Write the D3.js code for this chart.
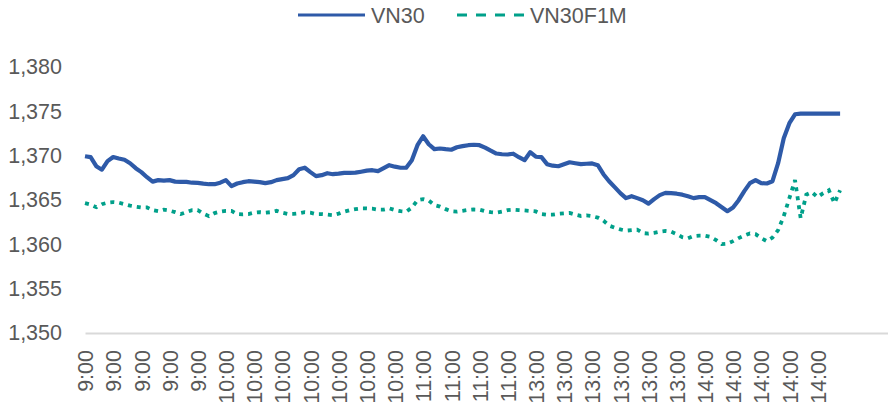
<!DOCTYPE html>
<html>
<head>
<meta charset="utf-8">
<script src="https://cdn.jsdelivr.net/npm/d3@7"></script>
<style>
  body { margin: 0; background: #fff; }
  text { font-family: "Liberation Sans", Arial, sans-serif; }
</style>
</head>
<body>
<div id="chart"></div>
<script>
// x tick labels, one every 5 points
var timeLabels = ["9:00", "9:00", "9:00", "9:00", "9:00",
  "10:00", "10:00", "10:00", "10:00", "10:00", "10:00", "10:00",
  "11:00", "11:00", "11:00", "11:00",
  "13:00", "13:00", "13:00", "13:00", "13:00", "13:00",
  "14:00", "14:00", "14:00", "14:00", "14:00"];
var labelStep = 5;
var yTicks = [1350, 1355, 1360, 1365, 1370, 1375, 1380];

var vn30 = [
  1369.94, 1369.83, 1368.81, 1368.42, 1369.38, 1369.85, 1369.68, 1369.54, 1369.15, 1368.59,
  1368.14, 1367.57, 1367.07, 1367.24, 1367.18, 1367.24, 1367.07, 1367.04, 1367.04, 1366.95,
  1366.93, 1366.84, 1366.78, 1366.78, 1366.95, 1367.24, 1366.56, 1366.86, 1367.01, 1367.12,
  1367.07, 1367.01, 1366.90, 1367.01, 1367.24, 1367.35, 1367.46, 1367.80, 1368.47, 1368.64,
  1368.14, 1367.69, 1367.80, 1368.02, 1367.91, 1367.97, 1368.06, 1368.06, 1368.08, 1368.19,
  1368.31, 1368.36, 1368.25, 1368.59, 1368.93, 1368.76, 1368.64, 1368.64, 1369.49, 1371.18,
  1372.19, 1371.29, 1370.73, 1370.81, 1370.73, 1370.67, 1370.95, 1371.07, 1371.18, 1371.23,
  1371.18, 1370.90, 1370.56, 1370.24, 1370.16, 1370.13, 1370.22, 1369.83, 1369.49, 1370.39,
  1369.88, 1369.83, 1369.04, 1368.87, 1368.81, 1369.04, 1369.26, 1369.15, 1369.04, 1369.09,
  1369.12, 1368.93, 1367.91, 1367.12, 1366.45, 1365.77, 1365.21, 1365.43, 1365.21, 1364.98,
  1364.59, 1365.10, 1365.55, 1365.80, 1365.77, 1365.71, 1365.60, 1365.43, 1365.21, 1365.32,
  1365.32, 1364.98, 1364.64, 1364.19, 1363.74, 1364.16, 1364.98, 1366.00, 1366.90, 1367.24,
  1366.90, 1366.86, 1367.12, 1369.15, 1371.97, 1373.66, 1374.67, 1374.75, 1374.75, 1374.75,
  1374.75, 1374.75, 1374.75, 1374.75, 1374.75
];

var vn30f1m = [
  1364.64, 1364.48, 1364.19, 1364.53, 1364.70, 1364.76, 1364.70, 1364.53, 1364.36, 1364.25,
  1364.16, 1364.16, 1363.86, 1363.74, 1363.91, 1363.80, 1363.63, 1363.41, 1363.63, 1363.86,
  1363.86, 1363.46, 1363.18, 1363.52, 1363.69, 1363.78, 1363.78, 1363.41, 1363.38, 1363.41,
  1363.57, 1363.63, 1363.57, 1363.63, 1363.78, 1363.57, 1363.43, 1363.43, 1363.50, 1363.63,
  1363.57, 1363.41, 1363.41, 1363.35, 1363.29, 1363.46, 1363.69, 1363.86, 1363.97, 1364.05,
  1364.05, 1364.02, 1363.91, 1363.91, 1364.05, 1363.86, 1363.74, 1363.69, 1364.14, 1364.98,
  1365.10, 1364.93, 1364.42, 1364.25, 1363.97, 1363.74, 1363.69, 1363.78, 1363.88, 1363.93,
  1363.91, 1363.74, 1363.63, 1363.57, 1363.69, 1363.86, 1363.91, 1363.86, 1363.82, 1363.77,
  1363.71, 1363.41, 1363.34, 1363.35, 1363.45, 1363.50, 1363.54, 1363.35, 1363.20, 1363.27,
  1363.18, 1363.01, 1362.67, 1362.11, 1361.88, 1361.68, 1361.54, 1361.60, 1361.66, 1361.27,
  1361.21, 1361.30, 1361.43, 1361.51, 1361.43, 1361.15, 1360.81, 1360.67, 1360.93, 1360.98,
  1360.98, 1360.85, 1360.48, 1360.03, 1360.08, 1360.36, 1360.70, 1360.98, 1361.23, 1361.15,
  1360.70, 1360.36, 1360.76, 1361.60, 1363.18, 1365.21, 1367.24, 1362.95, 1365.60, 1365.88,
  1365.32, 1365.77, 1366.10, 1364.64, 1366.10
];

var width = 888, height = 406;
var plotLeft = 85, plotRight = 888, plotTop = 67, plotBottom = 333;
var blue = "#2e5aa8", teal = "#00a08a", grey = "#595959";
var fontSize = "21.5px";

var svg = d3.select("#chart").append("svg")
  .attr("width", width)
  .attr("height", height);

var nSlots = timeLabels.length * labelStep + 7.5; // axis runs a bit past the last label
var x = d3.scaleLinear().domain([0, nSlots]).range([plotLeft, plotRight]);
var y = d3.scaleLinear().domain([1350, 1380]).range([plotBottom, plotTop]);

// y axis, labels only
var yAxis = svg.append("g")
  .attr("transform", "translate(" + plotLeft + ",0)")
  .call(d3.axisLeft(y).tickValues(yTicks).tickFormat(d3.format(",")).tickSize(0).tickPadding(23));
yAxis.select(".domain").remove();
yAxis.selectAll("text")
  .attr("fill", grey)
  .style("font-size", fontSize);

// x axis
var xAxis = svg.append("g")
  .attr("transform", "translate(0," + plotBottom + ")")
  .call(d3.axisBottom(x)
    .tickValues(d3.range(timeLabels.length).map(function(i) { return i * labelStep; }))
    .tickFormat(function(d) { return timeLabels[d / labelStep]; })
    .tickSize(0)
    .tickSizeOuter(0));
xAxis.select(".domain")
  .attr("stroke", "#d9d9d9")
  .attr("stroke-width", 2);
xAxis.selectAll("text")
  .attr("fill", grey)
  .style("font-size", fontSize)
  .attr("text-anchor", "end")
  .attr("transform", "rotate(-90)")
  .attr("x", -17)
  .attr("y", 0)
  .attr("dy", "0.36em");

var line = d3.line()
  .x(function(d, i) { return x(i); })
  .y(function(d) { return y(d); });

svg.append("path")
  .datum(vn30f1m)
  .attr("fill", "none")
  .attr("stroke", teal)
  .attr("stroke-width", 3.8)
  .attr("stroke-dasharray", "4,5")
  .attr("d", line);

svg.append("path")
  .datum(vn30)
  .attr("fill", "none")
  .attr("stroke", blue)
  .attr("stroke-width", 4.2)
  .attr("stroke-linejoin", "round")
  .attr("d", line);

// legend
var legend = [
  { name: "VN30", color: blue, dash: null, x: 298 },
  { name: "VN30F1M", color: teal, dash: "10,9", x: 457 }
];
var lg = svg.selectAll(".legend").data(legend)
  .enter().append("g")
  .attr("class", "legend")
  .attr("transform", function(d) { return "translate(" + d.x + ",15)"; });
lg.append("line")
  .attr("x1", 0).attr("x2", 67)
  .attr("stroke", function(d) { return d.color; })
  .attr("stroke-width", 3)
  .attr("stroke-dasharray", function(d) { return d.dash; });
lg.append("text")
  .attr("x", 73)
  .attr("dy", "0.36em")
  .attr("fill", grey)
  .style("font-size", fontSize)
  .text(function(d) { return d.name; });
</script>
</body>
</html>
